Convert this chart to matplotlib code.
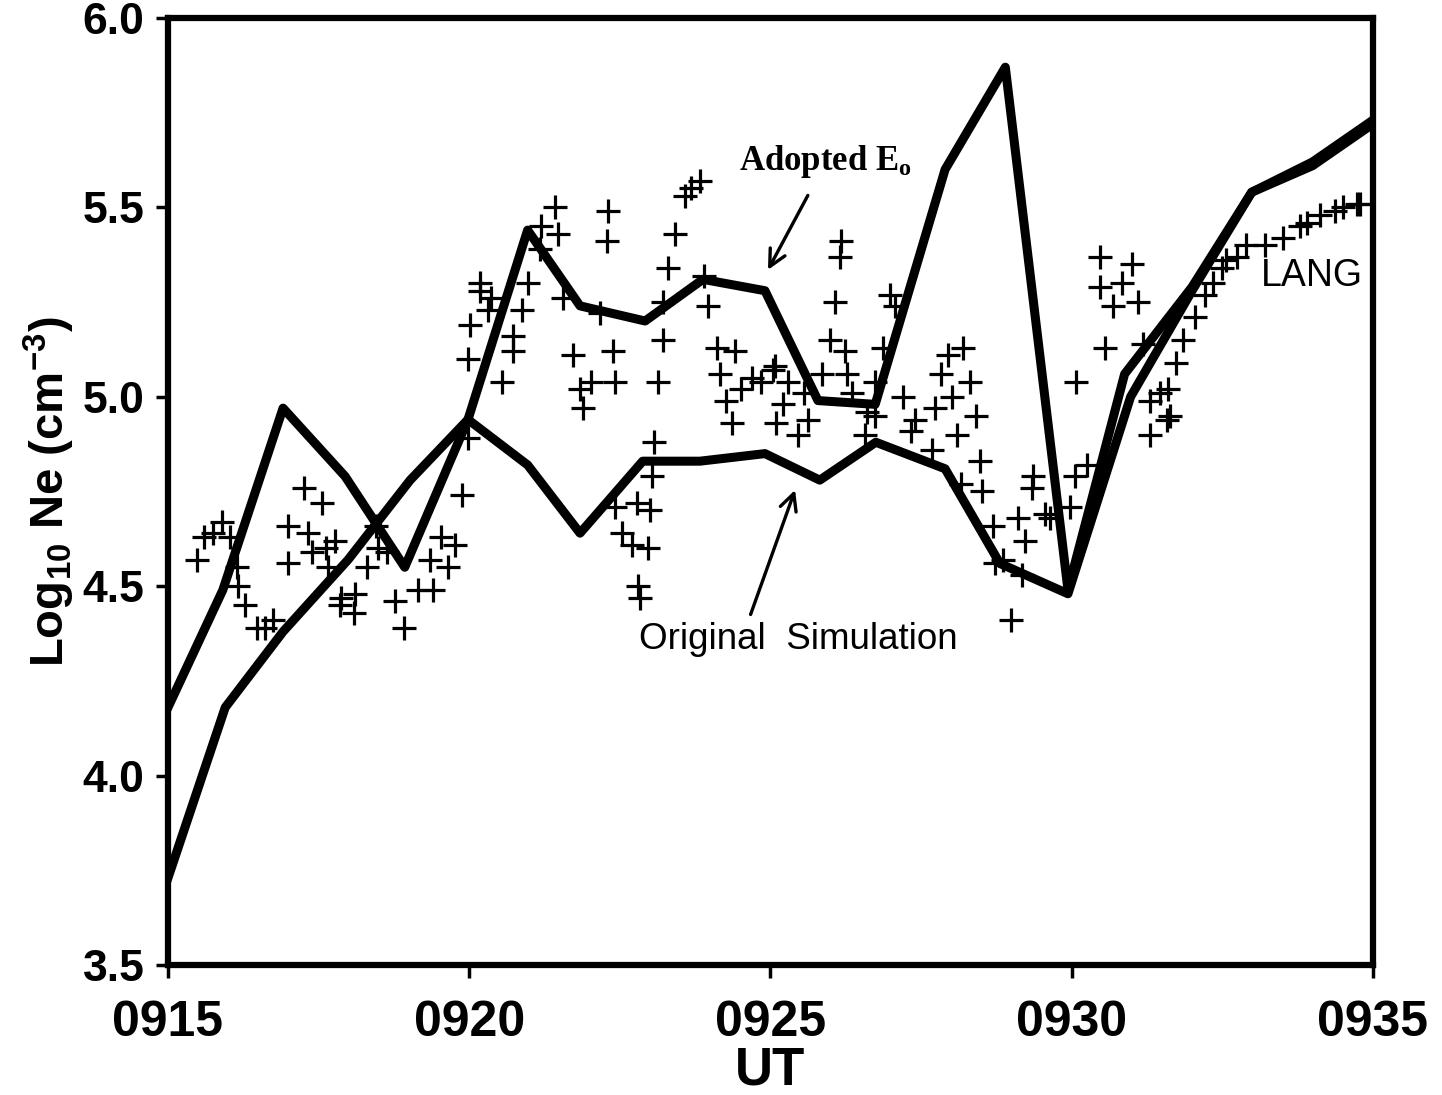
# -*- coding: utf-8 -*-

import matplotlib
matplotlib.use("Agg")
import matplotlib.pyplot as plt

# time in minutes after 0915 UT, log10 Ne in cm^-3
adopted_t = [0.0, 0.91, 1.91, 2.94, 3.93, 4.98, 5.97, 6.84, 7.92, 8.88, 9.91,
             10.79, 11.74, 12.90, 13.90, 14.94, 15.88, 17.00, 17.99, 19.00, 20.0]
adopted_ne = [4.18, 4.49, 4.97, 4.79, 4.55, 4.94, 5.44, 5.24, 5.20, 5.31, 5.28,
              4.99, 4.98, 5.60, 5.87, 4.49, 5.06, 5.29, 5.54, 5.62, 5.73]

original_t = [0.0, 0.95, 1.91, 2.99, 4.02, 4.98, 5.97, 6.84, 7.88, 8.83, 9.91,
              10.82, 11.75, 12.90, 13.81, 14.94, 15.98, 17.00, 17.99, 19.00, 20.0]
original_ne = [3.73, 4.18, 4.38, 4.57, 4.78, 4.94, 4.82, 4.64, 4.83, 4.83, 4.85,
               4.78, 4.88, 4.81, 4.56, 4.48, 5.00, 5.28, 5.54, 5.61, 5.72]

# LANG probe measurements
lang_t = [0.48, 0.59, 0.75, 0.89, 1.03, 1.14, 1.17, 1.28, 1.47, 1.61, 1.75,
          2.25, 2.55, 2.00, 2.00, 2.33, 2.39, 2.77, 2.63, 2.66, 2.86, 2.88,
          3.10, 3.08, 3.30, 3.49, 3.63, 3.46, 3.77, 3.91, 4.15, 4.40, 4.35,
          4.54, 4.76, 4.65, 4.88, 4.98,
          5.18, 5.18, 5.37, 5.32, 5.01, 4.98, 5.98, 5.87, 5.73, 5.73, 5.54,
          6.20, 6.42, 6.48, 6.17, 6.56, 7.17, 7.31, 7.28, 6.73, 6.84, 7.03,
          6.89, 7.39, 7.42,
          8.06, 8.03, 7.42, 7.78, 8.00, 7.53, 7.70, 7.97, 7.81, 7.83,
          8.21, 8.14, 8.21, 8.30, 8.42, 8.58, 8.69, 8.83, 8.89, 8.97, 9.11,
          9.41, 9.16, 9.52, 9.69, 9.85, 9.27, 9.36, 10.05,
          11.18, 11.15, 11.07, 11.98, 12.07, 10.99, 11.24, 11.87, 10.85, 11.27,
          11.73, 11.35, 10.08, 10.30, 10.21, 10.10, 10.55, 10.63, 10.46, 11.60,
          11.73, 11.57, 12.20, 12.40, 12.34, 12.68, 12.73, 13.01, 12.84, 12.95,
          13.20, 13.31, 13.42, 13.09, 13.48, 13.51, 13.17, 14.36, 14.34, 15.05,
          14.11, 14.22, 13.70, 14.56, 14.64, 14.97, 15.08, 13.86, 13.73, 14.17,
          14.00, 15.25,
          15.55, 15.47, 16.00, 15.47, 15.83, 15.69, 16.11, 16.19, 16.30, 16.30,
          16.47, 16.60, 16.63, 16.58, 16.74, 16.85, 17.05, 17.21, 17.35, 17.49,
          17.57, 17.74, 17.90, 18.21, 18.51, 18.79, 18.90, 19.12, 19.37, 19.51,
          19.73, 19.78]
lang_ne = [4.57, 4.63, 4.64, 4.67, 4.63, 4.55, 4.50, 4.45, 4.39, 4.39, 4.41,
           4.76, 4.72, 4.66, 4.56, 4.64, 4.59, 4.62, 4.60, 4.55, 4.45, 4.47,
           4.48, 4.43, 4.55, 4.60, 4.59, 4.66, 4.46, 4.39, 4.49, 4.49, 4.57,
           4.63, 4.61, 4.55, 4.74, 4.89,
           5.30, 5.28, 5.26, 5.23, 5.19, 5.10, 5.30, 5.23, 5.16, 5.12, 5.04,
           5.45, 5.50, 5.43, 5.39, 5.26, 5.22, 5.49, 5.41, 5.11, 5.02, 5.04,
           4.97, 5.12, 5.04,
           4.88, 4.79, 4.71, 4.72, 4.70, 4.64, 4.61, 4.60, 4.50, 4.47,
           5.15, 5.04, 5.25, 5.34, 5.43, 5.53, 5.55, 5.57, 5.32, 5.24, 5.13,
           5.12, 5.06, 5.02, 5.05, 5.04, 4.99, 4.93, 5.07,
           5.41, 5.37, 5.25, 5.27, 5.24, 5.15, 5.12, 5.13, 5.06, 5.06,
           5.04, 5.01, 5.08, 5.04, 4.98, 4.93, 5.01, 4.94, 4.90, 4.96,
           4.95, 4.90, 5.00, 4.94, 4.91, 4.86, 4.97, 5.00, 5.06, 5.11,
           5.13, 5.04, 4.95, 4.90, 4.83, 4.75, 4.77, 4.79, 4.76, 4.79,
           4.68, 4.62, 4.66, 4.69, 4.68, 4.71, 5.04, 4.57, 4.56, 4.53,
           4.41, 4.82,
           5.13, 5.37, 5.35, 5.29, 5.30, 5.24, 5.25, 5.14, 4.90, 4.99,
           5.01, 5.02, 4.95, 4.94, 5.09, 5.15, 5.21, 5.27, 5.30, 5.34,
           5.36, 5.37, 5.40, 5.40, 5.42, 5.45, 5.46, 5.48, 5.49, 5.50,
           5.51, 5.51]

x_ticks = [0, 5, 10, 15, 20]
x_labels = ["0915", "0920", "0925", "0930", "0935"]
y_ticks = [3.5, 4.0, 4.5, 5.0, 5.5, 6.0]
y_labels = ["3.5", "4.0", "4.5", "5.0", "5.5", "6.0"]

plt.rcParams["font.family"] = ["Liberation Sans", "DejaVu Sans"]
plt.rcParams["mathtext.default"] = "regular"

fig = plt.figure(figsize=(14.42, 10.95), dpi=100)
axes = fig.add_axes([0.1165, 0.1187, 0.8355, 0.8649])

axes.plot(lang_t, lang_ne, linestyle="none", marker="+", markersize=17,
          markeredgewidth=2.3, color="k")
axes.plot(adopted_t, adopted_ne, color="k", linewidth=6.5)
axes.plot(original_t, original_ne, color="k", linewidth=6.5)

axes.set_xlim(0, 20)
axes.set_ylim(3.5, 6.0)

axes.set_xticks(x_ticks)
axes.set_xticklabels(x_labels, fontsize=36, fontweight="bold")
axes.set_yticks(y_ticks)
axes.set_yticklabels(y_labels, fontsize=32, fontweight="bold")
axes.tick_params(axis="both", direction="out", length=9, width=2.5, colors="k")
axes.tick_params(axis="y", pad=8)
axes.tick_params(axis="x", pad=16)

for spine in axes.spines.values():
    spine.set_linewidth(4.5)

axes.set_xlabel("UT", fontsize=38, fontweight="bold", labelpad=0)
axes.set_ylabel(r"Log$_{10}$ Ne (cm$^{-3}$)", fontsize=34, fontweight="bold",
                labelpad=4)

# Подписи кривых
axes.annotate("Adopted E$_{o}$", xy=(9.96, 5.335), xytext=(10.92, 5.62),
              fontsize=25, fontweight="bold",
              family=["Liberation Serif", "DejaVu Serif"],
              ha="center", va="center",
              arrowprops=dict(arrowstyle="->", lw=2.4, color="k",
                              mutation_scale=30, shrinkA=10, shrinkB=0))
axes.annotate("Original  Simulation", xy=(10.41, 4.754), xytext=(10.47, 4.358),
              fontsize=26.5, ha="center", va="center",
              arrowprops=dict(arrowstyle="->", lw=2.4, color="k",
                              mutation_scale=30, shrinkA=4, shrinkB=0,
                              relpos=(0.34, 1.0)))
axes.text(18.99, 5.319, "LANG", fontsize=27, ha="center", va="center")

fig.savefig("out.png", dpi=100)
